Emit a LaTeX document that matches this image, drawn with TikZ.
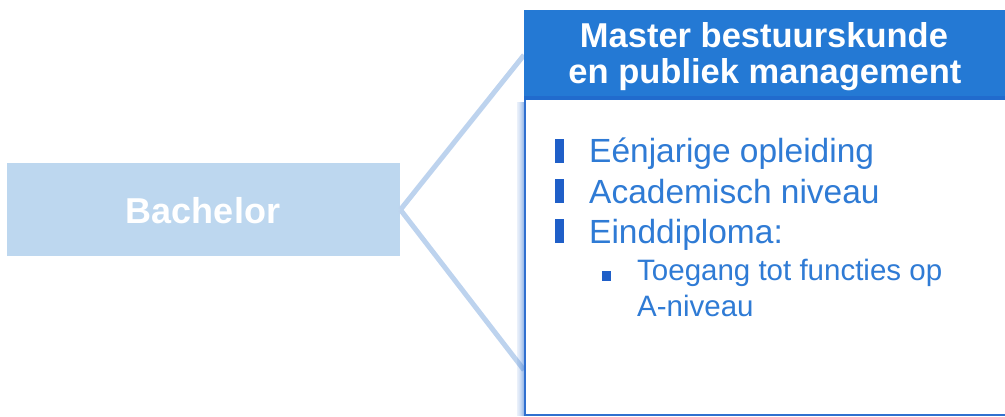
\documentclass[tikz,border=0pt]{standalone}
\usepackage{fontspec}
\setmainfont{Liberation Sans}
\definecolor{lightbl}{HTML}{BDD7EF}
\definecolor{linebl}{HTML}{BDD3EE}
\definecolor{headbl}{HTML}{2479D4}
\definecolor{txtbl}{HTML}{2F7BD5}
\definecolor{bulbl}{HTML}{1F5FC8}
\definecolor{edgebl}{HTML}{3070CF}
\tikzset{
  connector/.style={draw=linebl, line width=5pt, line cap=butt},
  bigbullet/.style={fill=bulbl, draw=none, minimum width=9.5pt, minimum height=24pt, inner sep=0pt, anchor=north west},
  smallbullet/.style={fill=bulbl, draw=none, minimum width=8.5pt, minimum height=9.5pt, inner sep=0pt, anchor=north west},
  bodytext/.style={anchor=base west, inner sep=0pt, text=txtbl, font=\fontsize{33.5}{40}\selectfont},
  subtext/.style={anchor=base west, inner sep=0pt, text=txtbl, font=\fontsize{29.5}{36}\selectfont},
  headtext/.style={text=white, font=\fontsize{34.5}{36}\selectfont\bfseries, anchor=base, inner sep=0pt},
}
\begin{document}
\begin{tikzpicture}[x=1pt,y=-1pt]
\useasboundingbox (0,0) rectangle (1005,416);
% Bachelor box
\node[fill=lightbl, minimum width=393pt, minimum height=93pt, inner sep=0pt, anchor=north west] (bach) at (7,163) {};
\node[text=white, font=\fontsize{36}{40}\selectfont\bfseries, anchor=base, inner sep=0pt] (bachtxt) at (203,223) {Bachelor};
% connectors
\coordinate (ctop) at (524,55);
\coordinate (cbot) at (524,370);
\draw[connector] (bach.east) -- (ctop);
\draw[connector] (bach.east) -- (cbot);
% shadow of content box
\foreach \i/\o in {1/0.10,2/0.14,3/0.18,4/0.24,5/0.30,6/0.38,7/0.46} {
  \fill[edgebl, opacity=\o] (516+\i,102) rectangle (517+\i,416);
}
% content box
\node[fill=white, draw=none, minimum width=481pt, minimum height=316pt, inner sep=0pt, anchor=north west] (body) at (524,100) {};
\draw[edgebl, line width=2.5pt] (525,100) -- (525,415) -- (1005,415);
% header
\node[fill=headbl, minimum width=481pt, minimum height=90pt, inner sep=0pt, anchor=north west] (head) at (524,10) {};
\fill[bulbl, opacity=0.5] (524,96) rectangle (1005,100);
\node[headtext] (h1) at (764,47) {Master bestuurskunde};
\node[headtext] (h2) at (765,83) {en publiek management};
% bullets
\node[bigbullet] (b1) at (554.5,139) {};
\node[bigbullet] (b2) at (554.5,179) {};
\node[bigbullet] (b3) at (554.5,219) {};
\node[bodytext] (t1) at (589,162) {Eénjarige opleiding};
\node[bodytext] (t2) at (589,203) {Academisch niveau};
\node[bodytext] (t3) at (589,243) {Einddiploma:};
\node[smallbullet] (s1) at (602,271) {};
\node[subtext] (u1) at (637,280) {Toegang tot functies op};
\node[subtext] (u2) at (637,316) {A-niveau};
\end{tikzpicture}
\end{document}
